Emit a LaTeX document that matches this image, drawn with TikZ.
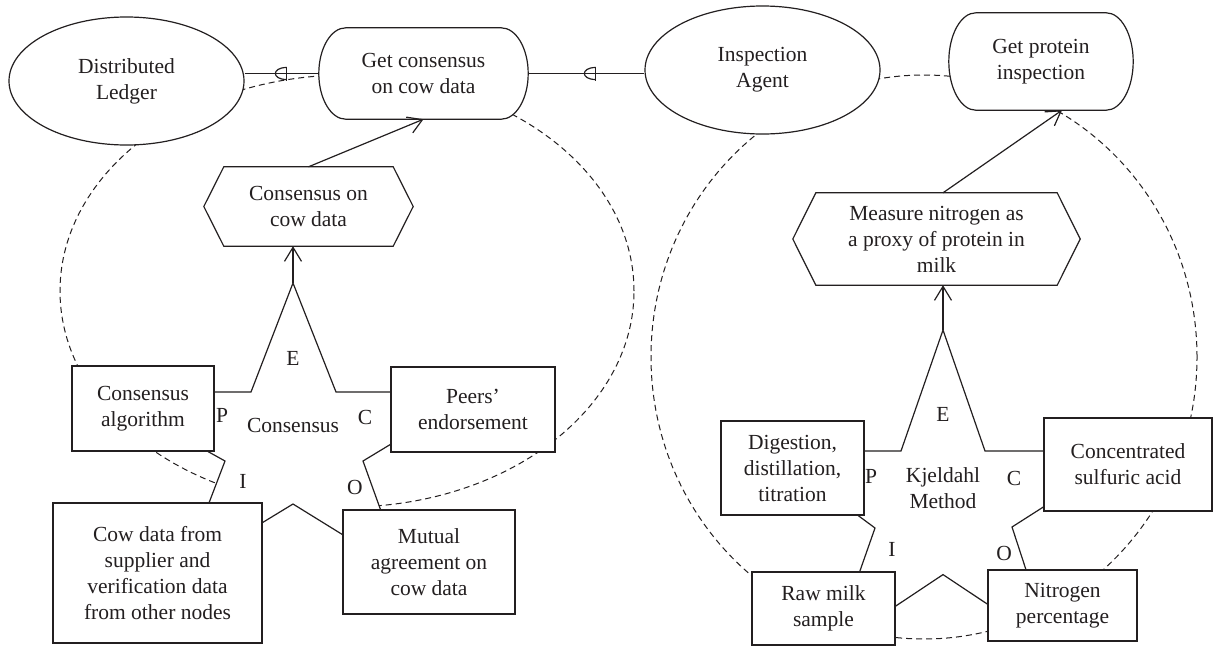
\documentclass[tikz,border=0pt]{standalone}
\usepackage{fontspec}
\setmainfont{Liberation Serif}
\usetikzlibrary{shapes.geometric,arrows.meta}
\definecolor{ink}{HTML}{231F20}
\pgfdeclarelayer{bgd}
\pgfdeclarelayer{shapes}
\pgfsetlayers{bgd,shapes,main}

% pill outline with elliptic ends around a named node: #1 node, #2 x radius, #3 y radius
\newcommand\drawpill[3]{%
  \draw[lw,fill=white] ([xshift=#2]#1.north west) -- ([xshift=-#2]#1.north east)
    .. controls ([xshift=-0.448*#2]#1.north east) and ([yshift=0.552*#3]#1.east) .. (#1.east)
    .. controls ([yshift=-0.552*#3]#1.east) and ([xshift=-0.448*#2]#1.south east) .. ([xshift=-#2]#1.south east)
    -- ([xshift=#2]#1.south west)
    .. controls ([xshift=0.448*#2]#1.south west) and ([yshift=-0.552*#3]#1.west) .. (#1.west)
    .. controls ([yshift=0.552*#3]#1.west) and ([xshift=0.448*#2]#1.north west) .. ([xshift=#2]#1.north west)
    -- cycle;}
% elongated hexagon around a named node: #1 node, #2 inset of the points
\newcommand\drawhex[2]{%
  \draw[lw,fill=white] (#1.west) -- ([xshift=#2]#1.north west) -- ([xshift=-#2]#1.north east)
    -- (#1.east) -- ([xshift=-#2]#1.south east) -- ([xshift=#2]#1.south west) -- cycle;}

\begin{document}
\begin{tikzpicture}[x=1pt,y=-1pt,
  every node/.style={font=\fontsize{21.5}{26}\selectfont, text=ink, align=center, inner sep=0pt},
  lw/.style={line width=1.2pt, draw=ink},
  oval/.style={ellipse, lw, fill=white},
  plain/.style={rectangle},
  box/.style={rectangle, lw, fill=white},
  boundary/.style={draw=ink, line width=1pt, dash pattern=on 6pt off 4pt},
  flow/.style={lw, -{Straight Barb[length=14pt,width=17pt]}},
  agentmark/.pic={
    \draw[lw] (0,-7) -- (0,7);
    \draw[lw] (0,-6) .. controls (-15,-6) and (-15,6) .. (0,6);
  }
]
\useasboundingbox (0,0) rectangle (1215,646);
\begin{pgfonlayer}{bgd}
  \fill[white] (0,0) rectangle (1215,646);
  % system boundaries
  \draw[boundary] (347,291) ellipse [x radius=287pt, y radius=216pt];
  \draw[boundary] (924,357) ellipse [x radius=273pt, y radius=282pt];
\end{pgfonlayer}

% top row
\node[oval, minimum width=235pt, minimum height=128pt] (ledger) at (126.5,81) {Distributed\\Ledger};
\node[plain, minimum width=209pt, minimum height=91pt] (getcons) at (423.5,73.5) {Get consensus\\on cow data};
\node[oval, minimum width=235pt, minimum height=128pt] (agent) at (762.5,70) {Inspection\\Agent};
\node[plain, minimum width=184pt, minimum height=97pt] (getprot) at (1041,61.5) {Get protein\\inspection};

% outcomes
\node[plain, minimum width=209pt, minimum height=79pt] (conshex) at (308.5,206.5) {Consensus on\\cow data};
\node[plain, minimum width=287pt, minimum height=92pt] (meashex) at (936.5,239) {Measure nitrogen as\\a proxy of protein in\\milk};

% consensus star elements
\node[box, minimum width=142pt, minimum height=85pt] (algo) at (143,408.5) {Consensus\\algorithm};
\node[box, minimum width=164pt, minimum height=85pt] (peers) at (473,409.5) {Peers’\\endorsement};
\node[box, minimum width=209pt, minimum height=140pt] (cow) at (157.5,573) {Cow data from\\supplier and\\verification data\\from other nodes};
\node[box, minimum width=172pt, minimum height=104pt] (mutual) at (429,562) {Mutual\\agreement on\\cow data};

% Kjeldahl star elements
\node[box, minimum width=143pt, minimum height=94pt] (digest) at (792.5,468) {Digestion,\\distillation,\\titration};
\node[box, minimum width=168pt, minimum height=93pt] (conc) at (1128,464.5) {Concentrated\\sulfuric acid};
\node[box, minimum width=143pt, minimum height=73pt] (raw) at (823.5,608.5) {Raw milk\\sample};
\node[box, minimum width=149pt, minimum height=71pt] (nitro) at (1062.5,605.5) {Nitrogen\\percentage};

\coordinate (ltip) at (293,283);
\coordinate (rtip) at (943,330);

\begin{pgfonlayer}{shapes}
  \drawpill{getcons}{27pt}{45.5pt}
  \drawpill{getprot}{27pt}{48.5pt}
  \drawhex{conshex}{20pt}
  \drawhex{meashex}{23pt}
  % stars; the arm tips lie under the element boxes
  \draw[lw, fill=white] (ltip) -- (336,392) -- (477,392) -- (363,461) -- (403,572) -- (293,504)
    -- (183,571) -- (225,461) -- (101,392) -- (251,392) -- cycle;
  \draw[lw, fill=white] (rtip) -- (985,451) -- (1131,451) -- (1012,527) -- (1030,582) -- (1000,612.5)
    -- (943,574.6) -- (880,616.5) -- (855,585) -- (875,528) -- (771,451) -- (901,451) -- cycle;
\end{pgfonlayer}

% star centres and labels
\node (lname) at (293,425) {Consensus};
\node (lE) at (293,358) {E};
\node (lP) at (222,415) {P};
\node (lC) at (365,417) {C};
\node (lI) at (243,481) {I};
\node (lO) at (355,487) {O};

\node (rname) at (943,488) {Kjeldahl\\Method};
\node (rE) at (943,414) {E};
\node (rP) at (871,476) {P};
\node (rC) at (1014,478) {C};
\node (rI) at (892,549) {I};
\node (rO) at (1004,553) {O};

% agent links
\draw[lw] (ledger.east |- getcons.west) -- (getcons.west);
\draw[lw] (getcons.east) -- (agent.west |- getcons.east);
\path (ledger.east |- getcons.west) -- (getcons.west) coordinate[pos=0.566] (m1);
\path (getcons.east) -- (agent.west |- getcons.east) coordinate[pos=0.58] (m2);
\pic at (m1) {agentmark};
\pic at (m2) {agentmark};

% result arrows
\draw[flow] (ltip) -- (ltip |- conshex.south);
\draw[flow] (conshex.north) -- (getcons.south);
\draw[flow] (rtip) -- (rtip |- meashex.south);
\draw[flow] (rtip |- meashex.north) -- ([xshift=21pt]getprot.south);
\end{tikzpicture}
\end{document}
